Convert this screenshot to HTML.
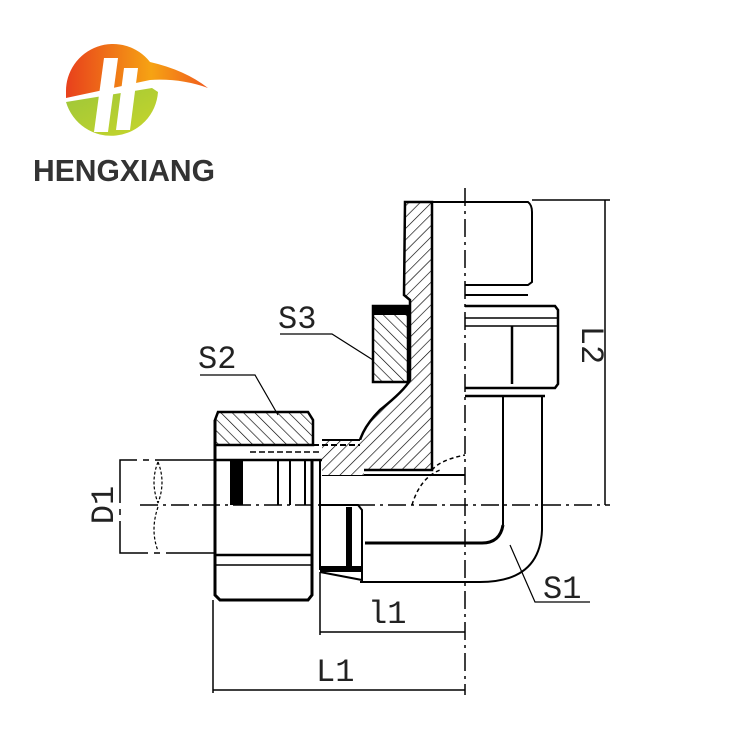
<!DOCTYPE html>
<html><head><meta charset="utf-8"><style>
html,body{margin:0;padding:0;background:#fff;width:750px;height:750px;overflow:hidden}
</style></head><body>
<svg width="750" height="750" viewBox="0 0 750 750" xmlns="http://www.w3.org/2000/svg">
<defs>
<pattern id="h" width="8" height="8" patternUnits="userSpaceOnUse" patternTransform="rotate(45)">
<rect width="8" height="8" fill="#fff"/><line x1="0" y1="0" x2="0" y2="8" stroke="#000" stroke-width="1.3"/></pattern>
<pattern id="h2" width="8" height="8" patternUnits="userSpaceOnUse" patternTransform="rotate(-45)">
<rect width="8" height="8" fill="#fff"/><line x1="0" y1="0" x2="0" y2="8" stroke="#000" stroke-width="1.3"/></pattern>
<linearGradient id="og" x1="0" y1="0" x2="1" y2="0"><stop offset="0" stop-color="#e8401c"/><stop offset="0.6" stop-color="#f6a313"/><stop offset="1" stop-color="#f05a1e"/></linearGradient>
<linearGradient id="gg" x1="0" y1="0" x2="1" y2="1"><stop offset="0" stop-color="#9cc63a"/><stop offset="1" stop-color="#c8d62a"/></linearGradient>
</defs>
<!-- logo -->
<path d="M66 92 A47 47 0 0 1 150 62 Q185 70 208 88 Q180 78 150 80 L66 98Z" fill="url(#og)"/>
<path d="M66 102 L152 88 L158 92 A47 47 0 0 1 66 102Z" fill="url(#gg)"/>
<path d="M104 58 L118 58 L108 132 L94 132Z" fill="#fff"/>
<path d="M124 68 L138 68 L130 130 L116 130Z" fill="#fff"/>
<text x="124" y="181" text-anchor="middle" font-family="Liberation Sans,sans-serif" font-weight="bold" font-size="31" fill="#333" textLength="182" lengthAdjust="spacingAndGlyphs">HENGXIANG</text>

<g fill="none" stroke="#000" stroke-width="2">
<line x1="465" y1="188" x2="465" y2="695" stroke-width="1.5" stroke-dasharray="18,5,3,5"/>
<line x1="140" y1="505" x2="610" y2="505" stroke-width="1.5" stroke-dasharray="18,5,3,5"/>
<path d="M405 202 L432 202 L432 470 L360 470 Q350 440 380 410 Q405 390 410 380 L410 300 L404 295 Z" fill="url(#h)" stroke-width="2.5"/>
<line x1="432" y1="202" x2="465" y2="202"/>
<path d="M465 202 L528 202 Q532 205 532 212 L532 282 L528 285 L465 285"/>
<line x1="465" y1="295" x2="528" y2="295"/>
<rect x="373" y="306" width="35" height="76" fill="url(#h2)" stroke-width="2.5"/>
<rect x="373" y="306" width="35" height="8" fill="#000"/>
<path d="M465 306 L555 306 L558 310 L558 384 L555 388 L465 388" stroke-width="2.5"/>
<line x1="465" y1="318" x2="558" y2="318" stroke-width="1.5"/>
<line x1="465" y1="326" x2="558" y2="326" stroke-width="1.5"/>
<line x1="512" y1="326" x2="512" y2="384" stroke-width="2.5"/>
<line x1="465" y1="396" x2="545" y2="396" stroke-width="2.5"/>
<line x1="503" y1="396" x2="503" y2="525"/>
<line x1="542" y1="396" x2="542" y2="530"/>
<path d="M503 525 Q500 543 482 543 L365 543" stroke-width="3"/>
<path d="M542 530 Q540 582 480 582 L360 582"/>
<line x1="322" y1="475" x2="465" y2="475"/>
<path d="M432 470 Q440 460 465 455" stroke-dasharray="4,3" stroke-width="1.5"/>
<path d="M412 505 Q420 478 440 470" stroke-dasharray="4,3" stroke-width="1.5"/>
<rect x="322" y="440" width="42" height="35" fill="url(#h)" stroke="none"/>
<line x1="322" y1="440" x2="360" y2="440"/>
<path d="M218 412 L308 412 L313 420 L313 445 L215 445 L215 420 Z" fill="url(#h2)" stroke-width="2.5"/>
<line x1="250" y1="445" x2="360" y2="445" stroke-dasharray="6,3" stroke-width="2"/>
<line x1="250" y1="452" x2="322" y2="452" stroke-dasharray="6,3" stroke-width="1.5"/>
<path d="M215 420 L215 595 L220 600 L308 600 L312 595 L312 460" stroke-width="3"/>
<line x1="215" y1="460" x2="322" y2="460" stroke-width="2.5"/>
<line x1="215" y1="555" x2="312" y2="555" stroke-width="2.5"/>
<line x1="215" y1="565" x2="312" y2="565" stroke-width="1.5"/>
<rect x="230" y="460" width="13" height="45" fill="#000" stroke="none"/>
<line x1="278" y1="460" x2="278" y2="505"/>
<line x1="290" y1="460" x2="290" y2="505"/>
<line x1="305" y1="460" x2="305" y2="505"/>
<line x1="320" y1="460" x2="320" y2="570"/>
<path d="M320 505 L358 505 L362 510 L362 580 L320 572" stroke-width="2"/>
<rect x="346" y="507" width="6" height="63" fill="#000" stroke="none"/>
<rect x="320" y="566" width="42" height="6" fill="#000" stroke="none"/>
<path d="M215 460 L120 460 L120 553 L215 553" stroke-width="1.5" stroke-dasharray="60,6,6,6"/>
<path d="M158 462 Q150 482 158 503 M158 462 Q166 482 158 503 M158 507 Q150 530 158 551" stroke-width="1.2" stroke-dasharray="3,2"/>
<line x1="532" y1="200" x2="610" y2="200" stroke-width="1.5"/>
<line x1="605" y1="200" x2="605" y2="505" stroke-width="1.5"/>
<line x1="320" y1="572" x2="320" y2="635" stroke-width="1.5"/>
<line x1="320" y1="632" x2="465" y2="632" stroke-width="1.5"/>
<line x1="213" y1="600" x2="213" y2="693" stroke-width="1.5"/>
<line x1="213" y1="690" x2="465" y2="690" stroke-width="1.5"/>
<polyline points="280,334 332,334 373,360" stroke-width="1.2"/>
<polyline points="200,375 255,375 278,415" stroke-width="1.2"/>
<polyline points="510,545 535,602 590,602" stroke-width="1.2"/>
</g>
<g font-family="Liberation Mono,monospace" font-size="32" fill="#222">
<text x="278" y="328">S3</text>
<text x="198" y="368">S2</text>
<text x="543" y="598">S1</text>
<text x="368" y="623">l1</text>
<text x="316" y="681">L1</text>
<text transform="translate(582,345) rotate(90)" text-anchor="middle">L2</text>
<text transform="translate(113,505) rotate(-90)" text-anchor="middle">D1</text>
</g>
</svg>
</body></html>
